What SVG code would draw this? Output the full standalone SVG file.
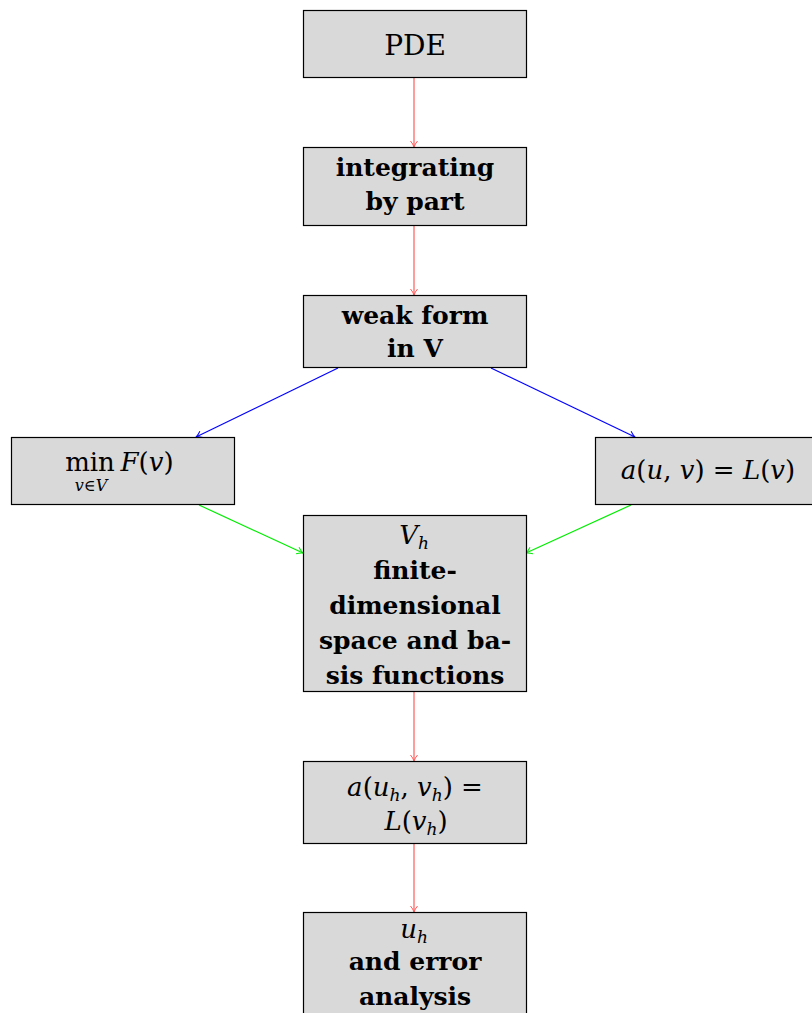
<svg xmlns="http://www.w3.org/2000/svg" width="812" height="1013" viewBox="0 0 812 1013">
<defs>
<style>
text{font-family:'DejaVu Serif','Liberation Serif',serif;fill:#000;text-anchor:middle;font-size:26px}
.b{font-size:25px;font-weight:bold}
.i{font-style:italic}
.s{font-style:italic;font-size:17px}
.box{fill:#d9d9d9;stroke:#000;stroke-width:1.2}
.red{stroke:#ff5a5a;stroke-width:1.2;fill:none}
.blue{stroke:#0000ff;stroke-width:1.2;fill:none}
.green{stroke:#00ee00;stroke-width:1.2;fill:none}
</style>
<marker id="ar" markerWidth="10" markerHeight="10" refX="8" refY="5" orient="auto" markerUnits="userSpaceOnUse"><path d="M2,1.5 Q5,4 8,5 Q5,6 2,8.5" fill="none" stroke="#ff5a5a" stroke-width="1"/></marker>
<marker id="ab" markerWidth="10" markerHeight="10" refX="8" refY="5" orient="auto" markerUnits="userSpaceOnUse"><path d="M2,1.5 Q5,4 8,5 Q5,6 2,8.5" fill="none" stroke="#0000ff" stroke-width="1"/></marker>
<marker id="ag" markerWidth="10" markerHeight="10" refX="8" refY="5" orient="auto" markerUnits="userSpaceOnUse"><path d="M2,1.5 Q5,4 8,5 Q5,6 2,8.5" fill="none" stroke="#00ee00" stroke-width="1"/></marker>
</defs>
<rect width="812" height="1013" fill="#fff"/>
<g id="connectors">
<line class="red" x1="414" y1="78" x2="414" y2="147" marker-end="url(#ar)"/>
<line class="red" x1="414" y1="226" x2="414" y2="295" marker-end="url(#ar)"/>
<line class="blue" x1="338" y1="368" x2="196" y2="437" marker-end="url(#ab)"/>
<line class="blue" x1="491" y1="368" x2="635" y2="437" marker-end="url(#ab)"/>
<line class="green" x1="199" y1="505" x2="303" y2="553" marker-end="url(#ag)"/>
<line class="green" x1="631" y1="505" x2="526" y2="553" marker-end="url(#ag)"/>
<line class="red" x1="414" y1="692" x2="414" y2="761" marker-end="url(#ar)"/>
<line class="red" x1="414" y1="844" x2="414" y2="912" marker-end="url(#ar)"/>
</g>
<g id="pde">
<rect class="box" x="303.5" y="10.5" width="223" height="67"/>
<text x="415" y="55" style="font-size:28px">PDE</text>
</g>
<g id="integrating">
<rect class="box" x="303.5" y="147.5" width="223" height="78"/>
<text class="b" x="415" y="176">integrating</text>
<text class="b" x="415" y="210">by  part</text>
</g>
<g id="weakform">
<rect class="box" x="303.5" y="295.5" width="223" height="72"/>
<text class="b" x="415" y="324">weak  form</text>
<text class="b" x="415" y="357">in  V</text>
</g>
<g id="min">
<rect class="box" x="11.5" y="437.5" width="223" height="67"/>
<text x="90" y="471">min</text>
<text class="s" x="91" y="491" style="font-size:16px">v∈V</text>
<text class="i" x="147" y="471">F<tspan font-style="normal">(</tspan>v<tspan font-style="normal">)</tspan></text>
</g>
<g id="auv">
<rect class="box" x="595.5" y="437.5" width="223" height="67"/>
<text x="708" y="479"><tspan class="i">a</tspan>(<tspan class="i">u</tspan>, <tspan class="i">v</tspan>) = <tspan class="i">L</tspan>(<tspan class="i">v</tspan>)</text>
</g>
<g id="vh">
<rect class="box" x="303.5" y="515.5" width="223" height="176"/>
<text x="414" y="544"><tspan class="i">V</tspan><tspan class="s" dy="5">h</tspan></text>
<text class="b" x="415" y="579">finite-</text>
<text class="b" x="415" y="614">dimensional</text>
<text class="b" x="415" y="649">space and ba-</text>
<text class="b" x="415" y="684">sis functions</text>
</g>
<g id="auhvh">
<rect class="box" x="303.5" y="761.5" width="223" height="82"/>
<text x="415" y="796"><tspan class="i">a</tspan>(<tspan class="i">u</tspan><tspan class="s" dy="5">h</tspan><tspan dy="-5">, </tspan><tspan class="i">v</tspan><tspan class="s" dy="5">h</tspan><tspan dy="-5">)  =</tspan></text>
<text x="416" y="830"><tspan class="i">L</tspan>(<tspan class="i">v</tspan><tspan class="s" dy="5">h</tspan><tspan dy="-5">)</tspan></text>
</g>
<g id="uh">
<rect class="box" x="303.5" y="912.5" width="223" height="110"/>
<text x="414" y="938"><tspan class="i">u</tspan><tspan class="s" dy="5">h</tspan></text>
<text class="b" x="415" y="970">and  error</text>
<text class="b" x="415" y="1005">analysis</text>
</g>
</svg>
